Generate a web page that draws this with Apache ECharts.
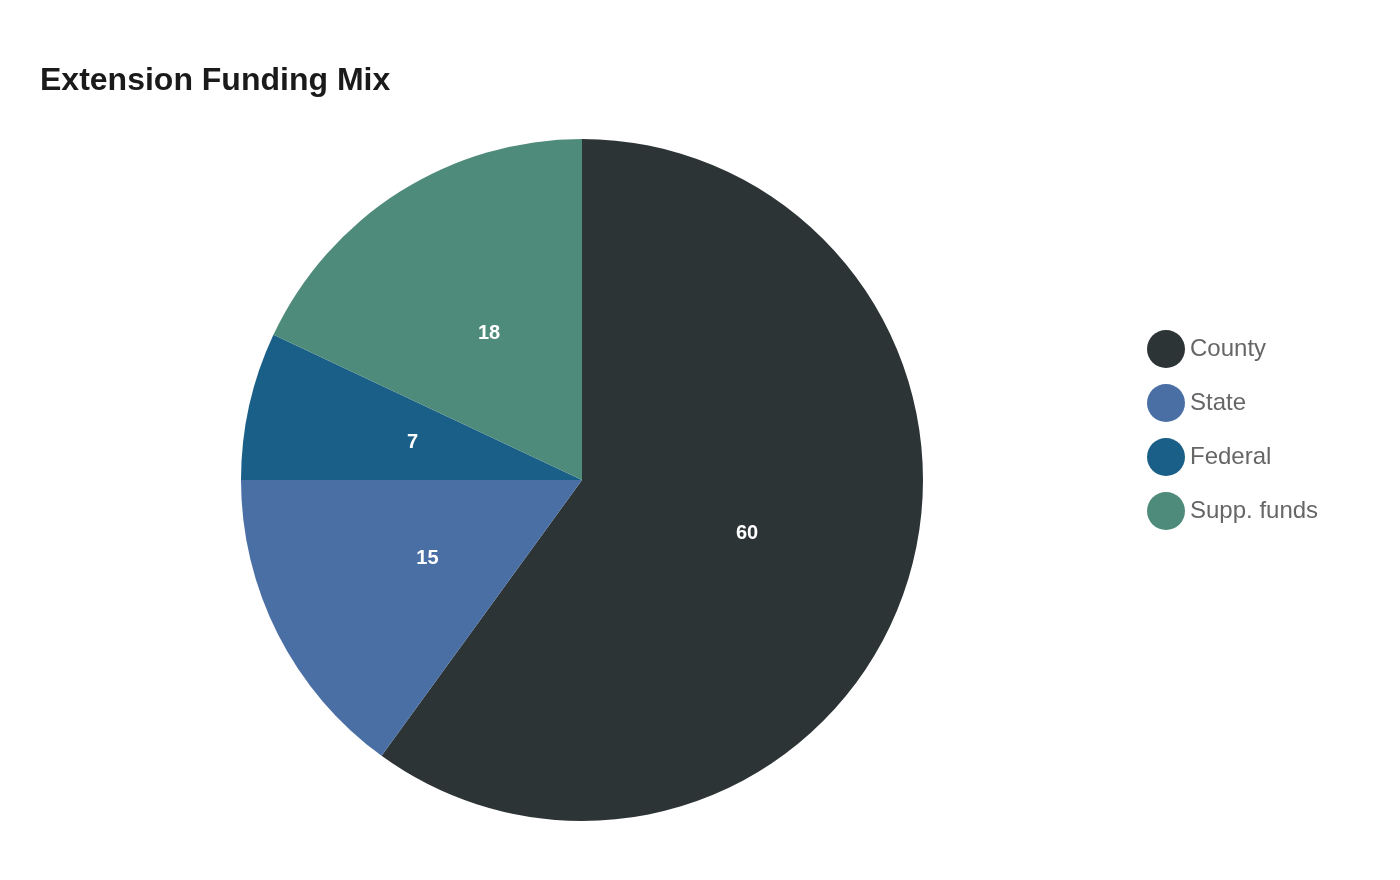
<!DOCTYPE html>
<html>
<head>
<meta charset="utf-8">
<script src="https://cdn.jsdelivr.net/npm/echarts@6/dist/echarts.min.js"></script>
<style>
html,body{margin:0;padding:0;background:#fff;}
#chart{width:1400px;height:880px;}
</style>
</head>
<body>
<div id="chart"></div>
<script>
const categories = ['County', 'State', 'Federal', 'Supp. funds'];
const values = [60, 15, 7, 18];
const colors = ['#2d3436', '#4a6fa5', '#1a5f87', '#4f8b7a'];

const chart = echarts.init(document.getElementById('chart'));
chart.setOption({
  backgroundColor: '#ffffff',
  title: {
    text: 'Extension Funding Mix',
    left: 40,
    top: 65,
    padding: 0,
    textStyle: { fontFamily: 'Liberation Sans', fontSize: 32, fontWeight: 'bold', color: '#1a1a1a' }
  },
  legend: {
    orient: 'vertical',
    left: 1147,
    top: 330,
    padding: 0,
    icon: 'circle',
    itemWidth: 38,
    itemHeight: 38,
    itemGap: 16,
    data: categories,
    textStyle: { fontFamily: 'Liberation Sans', fontSize: 24, color: '#666666' }
  },
  series: [{
    type: 'pie',
    center: [582, 480],
    radius: [0, 341],
    startAngle: 90,
    clockwise: true,
    animation: false,
    label: {
      show: true,
      position: 'inside',
      formatter: '{c}',
      fontFamily: 'Liberation Sans',
      fontSize: 20,
      fontWeight: 'bold',
      color: '#ffffff'
    },
    labelLine: { show: false },
    itemStyle: { borderWidth: 0 },
    emphasis: { disabled: true },
    data: categories.map((name, i) => ({ name, value: values[i], itemStyle: { color: colors[i] } }))
  }]
});
</script>
</body>
</html>
